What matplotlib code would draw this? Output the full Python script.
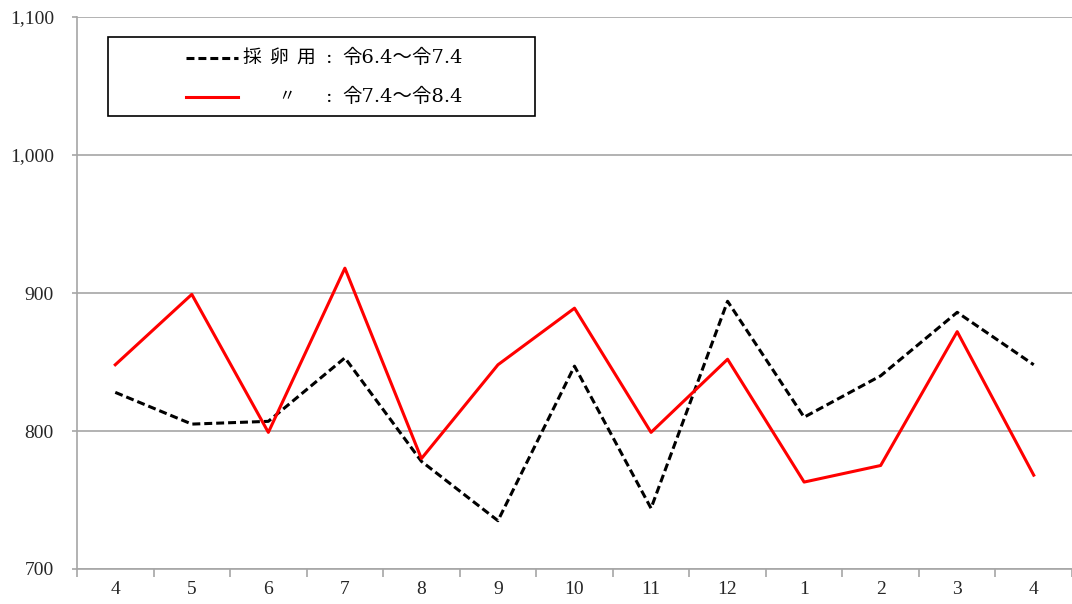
import matplotlib.pyplot as plt
from matplotlib.lines import Line2D
from matplotlib.patches import Rectangle
import numpy as np

plt.rcParams['font.family'] = ['Liberation Serif', 'Noto Sans CJK JP', 'DejaVu Sans']

# months from April to April
months = ['4', '5', '6', '7', '8', '9', '10', '11', '12', '1', '2', '3', '4']
prev_year = [828, 805, 807, 853, 778, 735, 847, 744, 894, 810, 840, 886, 848]   # 令6.4〜令7.4
this_year = [848, 899, 799, 918, 780, 848, 889, 799, 852, 763, 775, 872, 768]   # 令7.4〜令8.4

DASH = (0, (2.6, 1.3))

fig = plt.figure(figsize=(10.72, 6.04), dpi=100)
ax = fig.add_axes([77 / 1072, 35 / 604, 995 / 1072, 552 / 604])

x = np.arange(len(months))
ax.plot(x, prev_year, color='black', lw=2.2, ls=DASH)
ax.plot(x, this_year, color='#ff0000', lw=2.2)

ax.set_xlim(-0.5, len(months) - 0.5)
ax.set_ylim(700, 1100)
ax.set_yticks([700, 800, 900, 1000, 1100])
ax.set_yticklabels(['700', '800', '900', '1,000', '1,100'])
ax.yaxis.grid(True, color='#a6a6a6', lw=1.2)
ax.set_axisbelow(True)

ax.set_xticks(x)
ax.set_xticklabels(months)
ax.set_xticks(np.arange(-0.5, len(months)), minor=True)
ax.tick_params(axis='x', which='major', length=0, pad=9, labelsize=14, colors='#262626')
ax.tick_params(axis='x', which='minor', length=6, width=1.2, color='#a6a6a6')
ax.tick_params(axis='y', length=3.6, width=1.2, color='#a6a6a6', labelsize=14,
               labelcolor='#262626', pad=13)

for s in ['top', 'right']:
    ax.spines[s].set_visible(False)
for s in ['left', 'bottom']:
    ax.spines[s].set_color('#a6a6a6')
    ax.spines[s].set_linewidth(1.2)

# legend box drawn by hand to get the wide frame
W, H = 1072, 604
fig.patches.append(Rectangle((108 / W, 1 - 116 / H), 427 / W, 79 / H, transform=fig.transFigure,
                             fill=True, facecolor='white', edgecolor='black', lw=1.2, zorder=5))
fig.lines.append(Line2D([186 / W, 238 / W], [1 - 58 / H] * 2, transform=fig.transFigure,
                        color='black', lw=2.2, ls=DASH, zorder=6))
fig.lines.append(Line2D([186 / W, 238 / W], [1 - 97 / H] * 2, transform=fig.transFigure,
                        color='#ff0000', lw=2.2, zorder=6))
leg_font = ['DejaVu Serif', 'Noto Sans CJK JP']
for ch, px in zip(['採', '卵', '用'], [242, 269, 296]):
    fig.text(px / W, 1 - 58 / H, ch, fontsize=13.5, va='center', ha='left', zorder=7, family=leg_font)
fig.text(278 / W, 1 - 97 / H, '〃', fontsize=12, va='center', ha='left', zorder=7, family=leg_font)
fig.text(326 / W, 1 - 58 / H, ':', fontsize=14, va='center', ha='left', zorder=7, family=leg_font)
fig.text(326 / W, 1 - 97 / H, ':', fontsize=14, va='center', ha='left', zorder=7, family=leg_font)
fig.text(342 / W, 1 - 58 / H, '令6.4〜令7.4', fontsize=14, va='center', ha='left', zorder=7, family=leg_font)
fig.text(342 / W, 1 - 97 / H, '令7.4〜令8.4', fontsize=14, va='center', ha='left', zorder=7, family=leg_font)

plt.savefig('out.png', dpi=100)
